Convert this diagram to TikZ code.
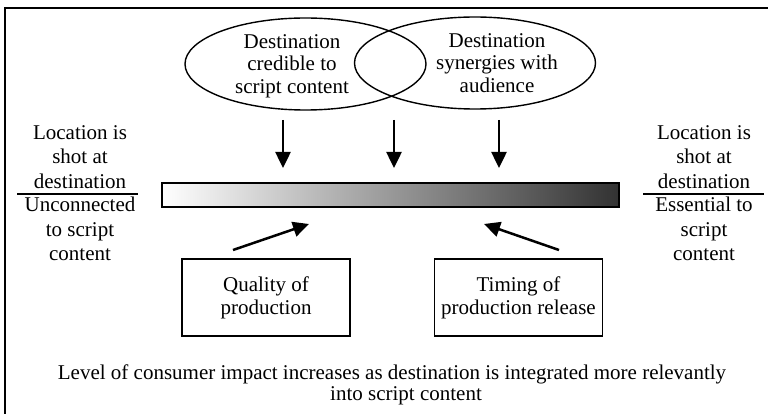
\documentclass[tikz,border=0pt]{standalone}
\usepackage{fontspec}
\setmainfont{Liberation Serif}
\usetikzlibrary{shapes.geometric,arrows.meta}
\tikzset{
  txt/.style={align=center, inner sep=0pt, font=\fontsize{21}{22.5}\selectfont},
  sidetxt/.style={align=center, inner sep=0pt, font=\fontsize{21}{24.5}\selectfont},
  oval/.style={draw, ellipse, line width=1.4pt, minimum width=241pt, minimum height=92pt, inner sep=0pt},
  factor/.style={draw, line width=1.4pt, minimum width=168pt, minimum height=77pt, inner sep=0pt},
  push/.style={line width=2.5pt, -{Triangle[length=16pt,width=15pt]}},
  divider/.style={line width=1.5pt},
}
\begin{document}
\begin{tikzpicture}[x=1pt,y=-1pt]
\useasboundingbox (0,0) rectangle (768,414);
% frame (only top and left edges visible)
\coordinate (fb) at (5,414);
\coordinate (fc) at (5,8);
\coordinate (fr) at (768,8);
\draw[line width=2pt] (fb) -- (fc) -- (fr);

% ellipses
\node[oval] (e1) at (305.5,64) {};
\node[oval] (e2) at (475,63) {};
\node[txt] (t1) at (292,66) {Destination\\credible to\\script content};
\node[txt] (t2) at (497,63) {Destination\\synergies with\\audience};

% gradient bar
\node[draw, line width=2pt, minimum width=457pt, minimum height=24pt, inner sep=0pt,
      left color=white, right color={rgb,255:red,50;green,50;blue,50}] (bar) at (390.5,195) {};

% down arrows
\coordinate (d1) at (283,120);
\coordinate (d2) at (394,120);
\coordinate (d3) at (499,120);
\draw[push, shorten >=14pt] (d1) -- (d1 |- bar.north);
\draw[push, shorten >=14pt] (d2) -- (d2 |- bar.north);
\draw[push, shorten >=14pt] (d3) -- (d3 |- bar.north);

% side labels
\node[sidetxt] (l1) at (80,157) {Location is\\shot at\\destination};
\node[sidetxt] (l2) at (80,229) {Unconnected\\to script\\content};
\coordinate (la) at (17,194);
\coordinate (lb) at (138,194);
\draw[divider] (la) -- (lb);
\node[sidetxt] (r1) at (704,157) {Location is\\shot at\\destination};
\node[sidetxt] (r2) at (704,229) {Essential to\\script\\content};
\coordinate (ra) at (643,194);
\coordinate (rb) at (764,194);
\draw[divider] (ra) -- (rb);

% factor boxes
\node[factor] (q) at (266,297.5) {};
\node[txt] (qt) at (266,298) {Quality of\\production};
\node[factor] (tm) at (518.5,297.5) {};
\node[txt] (tt) at (518.5,298) {Timing of\\production release};

% upward arrows
\coordinate (u1) at (233,250);
\coordinate (u2) at (559,250);
\coordinate (v1) at (309,224);
\coordinate (v2) at (484,224);
\draw[push] (u1) -- (v1);
\draw[push] (u2) -- (v2);

% caption
\node[txt] (c1) at (392,374) {Level of consumer impact increases as destination is integrated more relevantly};
\node[txt] (c2) at (406,396) {into script content};
\end{tikzpicture}
\end{document}
